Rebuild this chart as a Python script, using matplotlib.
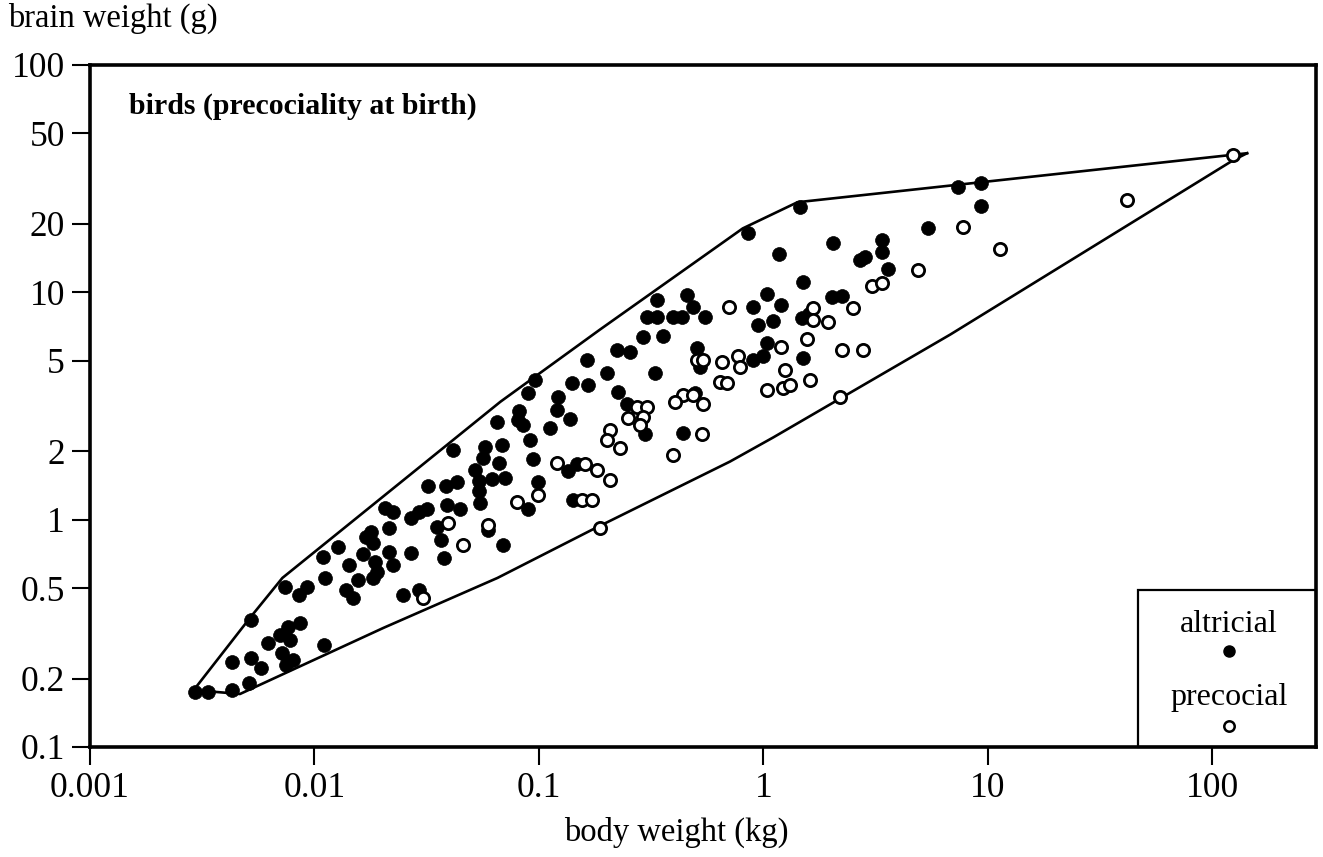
import matplotlib
matplotlib.use("Agg")
import matplotlib.pyplot as plt
from matplotlib.patches import Rectangle
from matplotlib.ticker import NullLocator

plt.rcParams["font.family"] = ["Liberation Serif", "DejaVu Serif"]

# altricial species: body weight (kg), brain weight (g)
alt_body = [0.00294, 0.00336, 0.0043, 0.0051, 0.0043, 0.0052, 0.0058, 0.0062, 0.0070, 0.0076,
            0.0086, 0.0078, 0.0072, 0.0080, 0.0075, 0.011, 0.0052, 0.0074, 0.0085, 0.0093,
            0.0112, 0.0109, 0.0127, 0.0142, 0.0138, 0.0148, 0.0157, 0.0164, 0.0169, 0.0178,
            0.0183, 0.0187, 0.0191, 0.0183, 0.0214, 0.0225, 0.0214, 0.0207, 0.0225, 0.0268,
            0.0268, 0.0291, 0.0319, 0.0249, 0.0291, 0.0322, 0.0384, 0.0434, 0.0353, 0.0391,
            0.0368, 0.0376, 0.0447, 0.0416, 0.0578, 0.0566, 0.0522, 0.0543, 0.0543, 0.0549,
            0.0621, 0.071, 0.0654, 0.0596, 0.164, 0.201, 0.223, 0.225, 0.165, 0.140,
            0.0966, 0.0899, 0.1215, 0.120, 0.1375, 0.112, 0.0819, 0.081, 0.0854, 0.0917,
            0.0688, 0.0661, 0.0946, 0.0996, 0.089, 0.0695, 0.135, 0.148, 0.142, 0.336,
            0.457, 0.486, 0.549, 0.395, 0.434, 0.303, 0.336, 0.291, 0.357, 0.254,
            0.329, 0.247, 0.297, 0.438, 0.506, 0.522, 0.496, 1.46, 0.854, 2.05,
            1.18, 3.39, 3.39, 2.71, 2.85, 3.61, 5.43, 1.51, 1.04, 0.899,
            1.20, 0.946, 1.11, 1.04, 2.03, 2.25, 1.49, 1.59, 1.51, 1.0,
            0.899, 7.39, 9.36, 9.36]
alt_brain = [0.175, 0.175, 0.178, 0.191, 0.237, 0.246, 0.223, 0.287, 0.311, 0.337,
             0.351, 0.296, 0.259, 0.241, 0.230, 0.281, 0.362, 0.506, 0.466, 0.506,
             0.554, 0.685, 0.759, 0.632, 0.491, 0.452, 0.543, 0.707, 0.839, 0.883,
             0.79, 0.652, 0.589, 0.554, 0.721, 0.632, 0.919, 1.13, 1.08, 0.714,
             1.02, 1.08, 1.11, 0.466, 0.491, 1.40, 1.40, 1.47, 0.928, 1.16,
             0.814, 0.678, 1.11, 2.03, 2.09, 1.87, 1.66, 1.48, 1.33, 1.18,
             1.51, 1.53, 2.70, 0.901, 5.06, 4.43, 5.59, 3.66, 3.93, 4.01,
             4.13, 3.62, 3.48, 3.05, 2.78, 2.54, 2.99, 2.75, 2.62, 2.23,
             2.14, 1.78, 1.84, 1.47, 1.11, 0.774, 1.63, 1.75, 1.22, 9.28,
             9.77, 8.65, 7.82, 7.82, 7.82, 7.82, 7.82, 6.38, 6.45, 5.48,
             4.43, 3.21, 2.37, 2.41, 5.71, 4.71, 3.62, 23.7, 18.2, 16.4,
             14.7, 16.9, 15.0, 13.8, 14.3, 12.6, 19.1, 11.1, 9.87, 8.65,
             8.83, 7.21, 7.51, 6.01, 9.58, 9.68, 7.74, 8.06, 5.16, 5.27,
             5.06, 29.0, 30.2, 23.9]

# precocial species: body weight (kg), brain weight (g)
pre_body = [0.0306, 0.0395, 0.0461, 0.0596, 0.0803, 0.0996, 0.120, 0.160, 0.181, 0.207,
            0.156, 0.172, 0.187, 0.207, 0.201, 0.703, 0.506, 0.538, 0.654, 0.641,
            0.688, 0.438, 0.404, 0.486, 0.538, 0.273, 0.303, 0.249, 0.291, 0.282,
            0.230, 0.533, 0.395, 4.91, 3.06, 3.39, 2.52, 1.67, 1.67, 1.95,
            1.57, 1.20, 0.77, 0.786, 2.25, 2.79, 1.25, 1.04, 1.23, 1.32,
            1.62, 2.20, 7.79, 11.3, 41.6, 124]
pre_brain = [0.452, 0.967, 0.774, 0.948, 1.19, 1.28, 1.78, 1.75, 1.66, 1.50,
             1.22, 1.22, 0.919, 2.49, 2.25, 8.65, 5.06, 5.06, 4.96, 4.05,
             4.01, 3.55, 3.30, 3.55, 3.21, 3.14, 3.14, 2.81, 2.84, 2.62,
             2.07, 2.37, 1.93, 12.5, 10.7, 10.95, 8.57, 8.57, 7.58, 7.43,
             6.26, 5.77, 5.27, 4.71, 5.59, 5.59, 4.57, 3.73, 3.81, 3.93,
             4.13, 3.48, 19.3, 15.5, 25.4, 40.1]

# envelope around all species
upper_body = [0.0029, 0.0052, 0.0072, 0.0674, 0.187, 0.81, 1.42, 143]
upper_brain = [0.178, 0.373, 0.554, 3.30, 6.85, 19.1, 24.9, 40.9]
lower_body = [0.0029, 0.00466, 0.0203, 0.0654, 0.172, 0.71, 1.108, 6.81, 124, 143]
lower_brain = [0.178, 0.171, 0.334, 0.554, 0.901, 1.80, 2.30, 6.52, 38.1, 40.9]

x_ticks = [0.001, 0.01, 0.1, 1, 10, 100]
x_tick_labels = ["0.001", "0.01", "0.1", "1", "10", "100"]
y_ticks = [0.1, 0.2, 0.5, 1, 2, 5, 10, 20, 50, 100]
y_tick_labels = ["0.1", "0.2", "0.5", "1", "2", "5", "10", "20", "50", "100"]

fig = plt.figure(figsize=(13.23, 8.57), dpi=100)
ax = fig.add_axes([0.068, 0.1284, 0.9267, 0.7958])
ax.set_xscale("log")
ax.set_yscale("log")
ax.set_xlim(0.001, 290)
ax.set_ylim(0.1, 100)

ax.plot(upper_body, upper_brain, color="black", lw=1.9, zorder=2)
ax.plot(lower_body, lower_brain, color="black", lw=1.9, zorder=2)

ax.plot(alt_body, alt_brain, linestyle="none", marker="o", markersize=10,
        markerfacecolor="black", markeredgecolor="black", markeredgewidth=0.5, zorder=3)
ax.plot(pre_body, pre_brain, linestyle="none", marker="o", markersize=8.8,
        markerfacecolor="white", markeredgecolor="black", markeredgewidth=2.0, zorder=4)

ax.set_xticks(x_ticks)
ax.set_xticklabels(x_tick_labels)
ax.set_yticks(y_ticks)
ax.set_yticklabels(y_tick_labels)
ax.xaxis.set_minor_locator(NullLocator())
ax.yaxis.set_minor_locator(NullLocator())
ax.tick_params(direction="out", length=13, width=1.5, labelsize=25.5, pad=5)
for sp in ax.spines.values():
    sp.set_linewidth(2.6)

ax.text(0.032, 0.940, "birds (precociality at birth)", transform=ax.transAxes,
        fontsize=21.5, fontweight="bold", ha="left", va="center")

# legend box
ax.add_patch(Rectangle((0.855, 0.0), 0.145, 0.230, transform=ax.transAxes,
                       fill=False, edgecolor="black", lw=1.6, zorder=5, clip_on=False))
ax.text(0.929, 0.179, "altricial", transform=ax.transAxes, fontsize=23,
        ha="center", va="center", zorder=6)
ax.plot([0.929], [0.141], transform=ax.transAxes, marker="o", markersize=8,
        markerfacecolor="black", markeredgecolor="black", zorder=6, clip_on=False)
ax.text(0.929, 0.072, "precocial", transform=ax.transAxes, fontsize=23,
        ha="center", va="center", zorder=6)
ax.plot([0.929], [0.031], transform=ax.transAxes, marker="o", markersize=7.5,
        markerfacecolor="white", markeredgecolor="black", markeredgewidth=1.8,
        zorder=6, clip_on=False)

fig.text(8 / 1323, 1 - 18 / 857, "brain weight (g)", fontsize=23.5, ha="left", va="center")
fig.text(676 / 1323, 1 - 832 / 857, "body weight (kg)", fontsize=23.5, ha="center", va="center")

fig.savefig("out.png", dpi=100)
